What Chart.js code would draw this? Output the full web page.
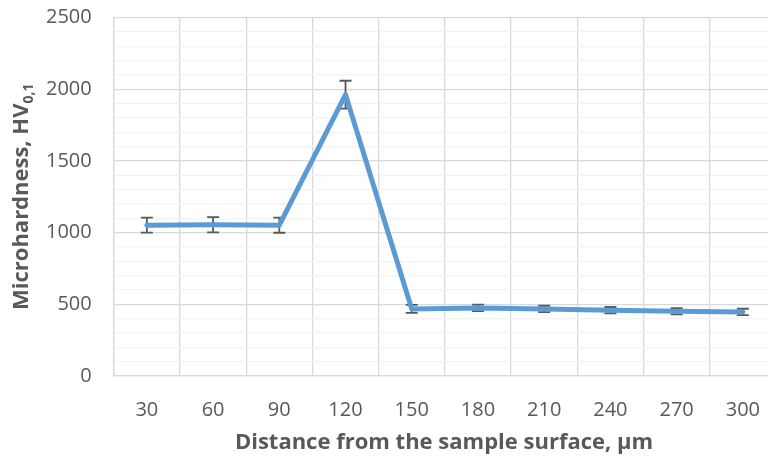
<!DOCTYPE html>
<html>
<head>
<meta charset="utf-8">
<script src="https://cdn.jsdelivr.net/npm/chart.js@4/dist/chart.umd.min.js"></script>
<style>
  html, body { margin:0; padding:0; background:#fff; overflow:hidden; width:768px; height:458px; }
  canvas { display:block; }
</style>
</head>
<body>
<canvas id="c" width="782" height="458"></canvas>
<script>
const distances = ['30', '60', '90', '120', '150', '180', '210', '240', '270', '300'];
const hardness = [1052, 1055, 1052, 1962, 468, 475, 468, 459, 452, 447];
const errors = [52, 53, 53, 97, 28, 23, 22, 22, 22, 22];
const yTitleMain = 'Microhardness, HV';
const yTitleSub = '0,1';
const xTitle = 'Distance from the sample surface, µm';

const FONT = '"Open Sans", Lato, sans-serif';
const TXT = '#595959';

const errorBars = {
  id: 'errorBars',
  beforeDatasetsDraw(chart) {
    const ctx = chart.ctx;
    const x = chart.scales.x, y = chart.scales.y;
    ctx.save();
    ctx.strokeStyle = '#595959';
    ctx.lineWidth = 1.8;
    hardness.forEach((v, i) => {
      const px = x.getPixelForValue(i);
      const top = y.getPixelForValue(v + errors[i]);
      const bot = y.getPixelForValue(v - errors[i]);
      ctx.beginPath();
      ctx.moveTo(px, top); ctx.lineTo(px, bot);
      ctx.moveTo(px - 6, top); ctx.lineTo(px + 6, top);
      ctx.moveTo(px - 6, bot); ctx.lineTo(px + 6, bot);
      ctx.stroke();
    });
    ctx.restore();
  }
};

const titlesPlugin = {
  id: 'axisTitles',
  afterDraw(chart) {
    const ctx = chart.ctx;
    const y = chart.scales.y;
    ctx.save();
    ctx.fillStyle = TXT;
    ctx.textBaseline = 'middle';
    const mainFont = 'bold 22px ' + FONT;
    const subFont = 'bold 14px ' + FONT;
    ctx.font = mainFont;
    const w1 = ctx.measureText(yTitleMain).width;
    ctx.font = subFont;
    const w2 = ctx.measureText(yTitleSub).width;
    const total = w1 + w2;
    ctx.save();
    ctx.translate(22, (y.top + y.bottom) / 2);
    ctx.rotate(-Math.PI / 2);
    ctx.textAlign = 'left';
    ctx.font = mainFont;
    ctx.fillText(yTitleMain, -total / 2, 0);
    ctx.font = subFont;
    ctx.fillText(yTitleSub, -total / 2 + w1, 7);
    ctx.restore();
    ctx.font = 'bold 22px ' + FONT;
    ctx.textAlign = 'center';
    ctx.fillText(xTitle, 444, 443);
    ctx.restore();
  }
};

new Chart(document.getElementById('c'), {
  type: 'line',
  data: {
    labels: distances,
    datasets: [{
      data: hardness,
      borderColor: '#5B9BD5',
      borderWidth: 5,
      pointRadius: 0,
      tension: 0,
      borderCapStyle: 'round',
      borderJoinStyle: 'round',
      fill: false
    }]
  },
  options: {
    responsive: false,
    animation: false,
    events: [],
    layout: { autoPadding: false, padding: { left: 24, top: 17.5, right: 0, bottom: 14 } },
    plugins: { legend: { display: false }, tooltip: { enabled: false } },
    scales: {
      x: {
        offset: true,
        grid: { offset: true, color: '#D9D9D9', lineWidth: 1.3, drawTicks: false },
        border: { color: '#D9D9D9', width: 1.3 },
        ticks: { color: TXT, font: { family: FONT, size: 20 }, padding: 22, maxRotation: 0 }
      },
      y: {
        min: 0, max: 2500,
        afterFit(s) { s.paddingTop = 0; s.paddingBottom = 0; },
        grid: {
          drawTicks: false,
          color: c => (c.tick && c.tick.value % 500 === 0) ? '#D9D9D9' : '#F2F2F2',
          lineWidth: 1.3
        },
        border: { color: '#D9D9D9', width: 1.3 },
        ticks: {
          stepSize: 100,
          autoSkip: false,
          color: TXT,
          font: { family: FONT, size: 20 },
          padding: 22,
          callback: v => (v % 500 === 0 ? String(v) : '')
        }
      }
    }
  },
  plugins: [errorBars, titlesPlugin]
});
</script>
</body>
</html>
